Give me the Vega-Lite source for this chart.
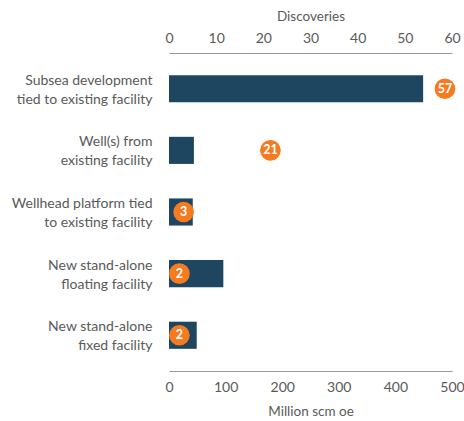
{
  "$schema": "https://vega.github.io/schema/vega-lite/v6.json",
  "autosize": {"type": "none"},
  "padding": {"left": 169, "top": 53, "right": 12, "bottom": 50},
  "width": 283,
  "height": 318,
  "config": {
    "view": {"stroke": null},
    "font": "Lato",
    "axis": {"labelFont": "Lato", "titleFont": "Lato", "labelColor": "#5a5a5a", "titleColor": "#5a5a5a", "labelFontSize": 14, "titleFontSize": 13.5, "titleFontWeight": "normal", "grid": false, "labelFlush": false}
  },
  "data": {
    "values": [
      {"type": "Subsea development|tied to existing facility", "volume": 449, "discoveries": 57, "pos": 58.5},
      {"type": "Well(s) from|existing facility", "volume": 44, "discoveries": 21, "pos": 21.5},
      {"type": "Wellhead platform tied|to existing facility", "volume": 42, "discoveries": 3, "pos": 3.1},
      {"type": "New stand-alone|floating facility", "volume": 96, "discoveries": 2, "pos": 2.2},
      {"type": "New stand-alone|fixed facility", "volume": 49, "discoveries": 2, "pos": 2.2}
    ]
  },
  "encoding": {
    "y": {
      "field": "type", "type": "nominal", "sort": null,
      "scale": {"paddingInner": 0.56, "paddingOuter": 0.36},
      "axis": {"title": null, "domain": false, "ticks": false, "labelPadding": 17, "labelExpr": "split(datum.label, '|')", "labelLineHeight": 19, "labelFontSize": 14, "labelOffset": -8}
    }
  },
  "layer": [
    {
      "mark": {"type": "bar", "color": "#1f4661"},
      "encoding": {
        "x": {
          "field": "volume", "type": "quantitative",
          "scale": {"domain": [0, 500]},
          "axis": {"orient": "bottom", "title": "Million scm oe", "values": [0, 100, 200, 300, 400, 500], "ticks": false, "domainColor": "#999", "labelPadding": 9, "titlePadding": 10}
        }
      }
    },
    {
      "layer": [
        {
          "mark": {"type": "circle", "color": "#f47b20", "opacity": 1, "size": 430}
        },
        {
          "mark": {"type": "text", "color": "white", "fontWeight": "bold", "fontSize": 12.5, "font": "Lato"},
          "encoding": {"text": {"field": "discoveries", "type": "quantitative"}}
        }
      ],
      "encoding": {
        "x": {
          "field": "pos", "type": "quantitative",
          "scale": {"domain": [0, 60]},
          "axis": {"orient": "top", "title": "Discoveries", "values": [0, 10, 20, 30, 40, 50, 60], "ticks": false, "domainColor": "#999", "labelPadding": 8, "titlePadding": 8}
        }
      }
    }
  ],
  "resolve": {"scale": {"x": "independent"}}
}
